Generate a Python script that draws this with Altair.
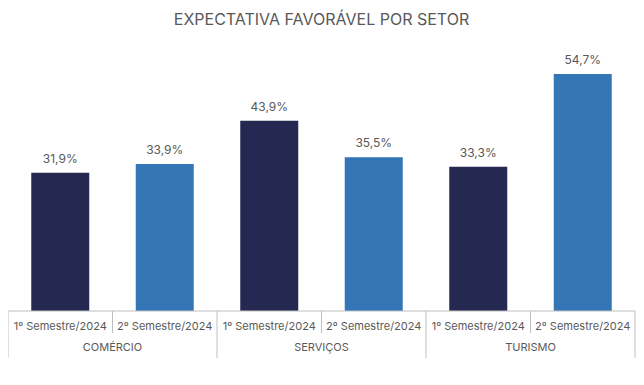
import altair as alt
import pandas as pd

setores = ["COMÉRCIO", "SERVIÇOS", "TURISMO"]
semestres = ["1º Semestre/2024", "2º Semestre/2024"]
valores_1sem = [31.9, 43.9, 33.3]
valores_2sem = [33.9, 35.5, 54.7]
cores = ["#252850", "#3375b5"]

rows = []
for i, s in enumerate(setores):
    for j, (sem, v) in enumerate(zip(semestres, [valores_1sem[i], valores_2sem[i]])):
        rows.append({
            "setor": s,
            "semestre": sem,
            "valor": v,
            "chave": f"{s}|{sem}",
            "rotulo": f"{v:.1f}%".replace(".", ","),
            "inicio": j == 0,
        })
df = pd.DataFrame(rows)
ordem = list(df["chave"])

FONT = "Inter"
TXT = "#595959"
LINE = "#bfbfbf"
W, H = 627, 260

xs = alt.Scale(domain=ordem, paddingInner=0, paddingOuter=0)
x_c = alt.X("chave:N", scale=xs, axis=None, sort=ordem)
x_0 = alt.X("chave:N", scale=xs, axis=None, sort=ordem, bandPosition=0)
ys = alt.Scale(domain=[0, 60])

base = alt.Chart(df)

bars = base.mark_bar(width=alt.RelativeBandSize(0.555)).encode(
    x=x_c,
    y=alt.Y("valor:Q", scale=ys, axis=None),
    color=alt.Color("semestre:N", scale=alt.Scale(domain=semestres, range=cores), legend=None),
)

vals = base.mark_text(dy=-14, fontSize=12, font=FONT, color=TXT).encode(
    x=x_c, y=alt.Y("valor:Q", scale=ys), text="rotulo:N"
)

semlab = base.mark_text(fontSize=11, font=FONT, color=TXT).encode(
    x=x_c, y=alt.value(H + 16), text="semestre:N"
)

grplab = base.transform_filter("!datum.inicio").mark_text(fontSize=11, font=FONT, color=TXT).encode(
    x=x_0, y=alt.value(H + 37), text="setor:N"
)

inner = base.transform_filter("!datum.inicio").mark_rule(color=LINE, strokeWidth=1).encode(
    x=x_0, y=alt.value(H), y2=alt.value(H + 22)
)

outer = base.transform_filter("datum.inicio").mark_rule(color=LINE, strokeWidth=1).encode(
    x=x_0, y=alt.value(H), y2=alt.value(H + 47)
)

right = base.transform_filter("datum.chave == '%s'" % ordem[-1]).mark_rule(color=LINE, strokeWidth=1).encode(
    x=alt.value(W), y=alt.value(H), y2=alt.value(H + 47)
)

baseline = base.transform_filter("datum.chave == '%s'" % ordem[0]).mark_rule(color=LINE, strokeWidth=1).encode(
    x=alt.value(0), x2=alt.value(W), y=alt.value(H)
)

chart = alt.layer(bars, vals, semlab, grplab, inner, outer, right, baseline).properties(
    width=W,
    height=H,
    title=alt.TitleParams(
        "EXPECTATIVA FAVORÁVEL POR SETOR",
        fontSize=16,
        font=FONT,
        fontWeight="normal",
        color=TXT,
        anchor="middle",
        offset=23,
    ),
    autosize=alt.AutoSizeParams(type="none"),
    padding={"left": 0, "top": 43, "right": 1, "bottom": 66},
).configure_view(stroke=None)

chart.save("out.html", embed_options={"renderer": "svg", "actions": False})
